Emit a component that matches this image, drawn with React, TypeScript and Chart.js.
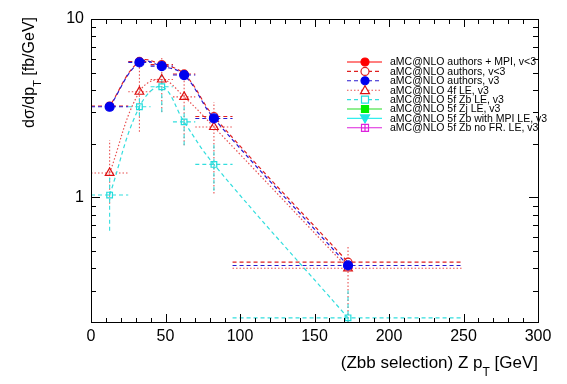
import React, { useEffect, useRef } from 'react';
import { Chart, registerables } from 'chart.js';

Chart.register(...registerables);

// ---------------- data ----------------
const binCenters = [12.5, 32.5, 47.5, 62.5, 82.5, 172.5];
const binLow = [0, 25, 40, 55, 70, 95];
const binHigh = [25, 40, 55, 70, 95, 250];

const seriesLabels = [
  'aMC@NLO authors + MPI, v<3',
  'aMC@NLO authors, v<3',
  'aMC@NLO authors, v3',
  'aMC@NLO 4f LE, v3',
  'aMC@NLO 5f Zb LE, v3',
  'aMC@NLO 5f Zj LE, v3',
  'aMC@NLO 5f Zb with MPI LE, v3',
  'aMC@NLO 5f Zb no FR. LE, v3',
];

const authorsMpiVlt3: number[] = [];
const authorsVlt3 = [3.25, 5.78, 5.55, 4.92, 2.84, 0.433];
const authorsV3 = [3.22, 5.71, 5.44, 4.85, 2.77, 0.415];
const le4f = [1.37, 3.91, 4.58, 3.66, 2.48, 0.4];
const le4fLow = [0.92, 2.33, 3.01, 1.96, 1.05, 0.2];
const le4fHigh = [2.09, 5.6, 6.14, 5.17, 3.43, 0.526];
const le5fZb = [1.03, 3.22, 4.17, 2.65, 1.53, 0.211];
const le5fZbLow = [0.65, 2.85, 3.0, 1.96, 1.09, 0.2];
const le5fZbHigh = [1.33, 3.65, 4.9, 3.22, 2.05, 0.3];
const le5fZj: number[] = [];
const le5fZbMpi: number[] = [];
const le5fZbNoFR: number[] = [];

const xTickValues = [0, 50, 100, 150, 200, 250, 300];
const yTickValues = [1, 10];

const FONT = '"Liberation Sans", Arial, Helvetica, sans-serif';

const pts = (vals: number[]) => vals.map((y, i) => ({ x: binCenters[i], y }));

// ---------------- drawing helpers ----------------
function drawMarker(ctx: CanvasRenderingContext2D, kind: string, x: number, y: number, color: string, filled: boolean) {
  ctx.save();
  ctx.setLineDash([]);
  ctx.lineWidth = 1.2;
  ctx.strokeStyle = color;
  ctx.fillStyle = filled ? color : '#ffffff';
  ctx.beginPath();
  if (kind === 'circle') {
    ctx.arc(x, y, 4, 0, Math.PI * 2);
  } else if (kind === 'triangle') {
    ctx.moveTo(x, y - 4.5);
    ctx.lineTo(x + 4.5, y + 3.5);
    ctx.lineTo(x - 4.5, y + 3.5);
    ctx.closePath();
  } else if (kind === 'triangleDown') {
    ctx.moveTo(x, y + 4.5);
    ctx.lineTo(x + 4.5, y - 3.5);
    ctx.lineTo(x - 4.5, y - 3.5);
    ctx.closePath();
  } else {
    ctx.rect(x - 3.5, y - 3.5, 7, 7);
  }
  ctx.fill();
  ctx.stroke();
  if (kind === 'squarePlus') {
    ctx.beginPath();
    ctx.moveTo(x - 3.5, y);
    ctx.lineTo(x + 3.5, y);
    ctx.moveTo(x, y - 3.5);
    ctx.lineTo(x, y + 3.5);
    ctx.stroke();
  }
  ctx.restore();
}

const rootPlugin = {
  id: 'rootStyle',
  beforeDatasetsDraw(chart: any) {
    const { ctx, chartArea: a } = chart;
    const xs = chart.scales.x;
    const ys = chart.scales.y;
    ctx.save();
    ctx.beginPath();
    ctx.rect(a.left, a.top, a.right - a.left, a.bottom - a.top);
    ctx.clip();
    chart.data.datasets.forEach((ds: any) => {
      const vals: number[] = ds.values || [];
      ctx.strokeStyle = ds.errColor || ds.borderColor;
      ctx.lineWidth = 1.1;
      ctx.setLineDash(ds.borderDash || []);
      vals.forEach((v, i) => {
        const py = ys.getPixelForValue(v);
        ctx.beginPath();
        ctx.moveTo(xs.getPixelForValue(binLow[i]), py);
        ctx.lineTo(xs.getPixelForValue(binHigh[i]), py);
        ctx.stroke();
        if (ds.errLow && ds.errHigh) {
          const px = xs.getPixelForValue(binCenters[i]);
          ctx.beginPath();
          ctx.moveTo(px, ys.getPixelForValue(ds.errLow[i]));
          ctx.lineTo(px, ys.getPixelForValue(ds.errHigh[i]));
          ctx.stroke();
        }
      });
    });
    ctx.restore();
  },
  afterDraw(chart: any) {
    const { ctx, chartArea: a } = chart;
    const xs = chart.scales.x;
    const ys = chart.scales.y;
    ctx.save();
    ctx.setLineDash([]);
    ctx.strokeStyle = '#000';
    ctx.lineWidth = 1;
    // frame
    ctx.strokeRect(Math.round(a.left) + 0.5, Math.round(a.top) + 0.5, Math.round(a.right - a.left), Math.round(a.bottom - a.top));
    // x ticks (bottom & top)
    for (let v = 0; v <= 300; v += 10) {
      const px = Math.round(xs.getPixelForValue(v)) + 0.5;
      const major = v % 50 === 0;
      const lb = major ? 8 : 4;
      const lt = major ? 8 : 5;
      ctx.beginPath();
      ctx.moveTo(px, a.bottom);
      ctx.lineTo(px, a.bottom - lb);
      ctx.moveTo(px, a.top);
      ctx.lineTo(px, a.top + lt);
      ctx.stroke();
    }
    // y ticks (left & right)
    const yt: number[] = [];
    for (let d = 0.1; d < 20; d *= 10) {
      for (let m = 1; m < 10; m++) yt.push(+(m * d).toPrecision(3));
    }
    yt.forEach((v) => {
      if (v < 0.2 || v > 10) return;
      const py = Math.round(ys.getPixelForValue(v)) + 0.5;
      const major = v === 1 || v === 10;
      const l = major ? 9 : 5;
      ctx.beginPath();
      ctx.moveTo(a.left, py);
      ctx.lineTo(a.left + l, py);
      ctx.moveTo(a.right, py);
      ctx.lineTo(a.right - l, py);
      ctx.stroke();
    });
    // x title
    ctx.fillStyle = '#000';
    ctx.textBaseline = 'alphabetic';
    ctx.font = `17px ${FONT}`;
    const t1 = '(Zbb selection) Z p';
    const t3 = ' [GeV]';
    ctx.font = `17px ${FONT}`;
    const w1 = ctx.measureText(t1).width;
    const w3 = ctx.measureText(t3).width;
    ctx.font = `12px ${FONT}`;
    const w2 = ctx.measureText('T').width;
    let x0 = a.right - (w1 + w2 + w3);
    ctx.font = `17px ${FONT}`;
    ctx.textAlign = 'left';
    ctx.fillText(t1, x0, 368);
    ctx.font = `12px ${FONT}`;
    ctx.fillText('T', x0 + w1, 376);
    ctx.font = `17px ${FONT}`;
    ctx.fillText(t3, x0 + w1 + w2, 368);
    // y title (rotated)
    ctx.save();
    ctx.translate(34, a.top - 2);
    ctx.rotate(-Math.PI / 2);
    const y1 = 'dσ/dp';
    const y3 = ' [fb/GeV]';
    ctx.font = `16px ${FONT}`;
    const v1 = ctx.measureText(y1).width;
    const v3 = ctx.measureText(y3).width;
    ctx.font = `11px ${FONT}`;
    const v2 = ctx.measureText('T').width;
    const start = -(v1 + v2 + v3);
    ctx.font = `16px ${FONT}`;
    ctx.fillText(y1, start, 0);
    ctx.font = `11px ${FONT}`;
    ctx.fillText('T', start + v1, 7);
    ctx.font = `16px ${FONT}`;
    ctx.fillText(y3, start + v1 + v2, 0);
    ctx.restore();
    // legend
    ctx.font = `10.5px ${FONT}`;
    ctx.textBaseline = 'middle';
    ctx.textAlign = 'left';
    chart.data.datasets.forEach((ds: any, i: number) => {
      const ry = 62 + i * 9.4;
      ctx.save();
      ctx.strokeStyle = ds.legendLine || ds.borderColor;
      ctx.lineWidth = 1.1;
      ctx.setLineDash(ds.borderDash || []);
      ctx.beginPath();
      ctx.moveTo(347, ry);
      ctx.lineTo(382, ry);
      ctx.stroke();
      ctx.restore();
      drawMarker(ctx, ds.markerKind, 365, ry, ds.pointBorderColor, ds.markerFilled);
      ctx.fillStyle = '#000';
      ctx.fillText(ds.label, 390, ry + 0.5);
    });
    ctx.restore();
  },
};

export default function App() {
  const ref = useRef<HTMLCanvasElement | null>(null);
  useEffect(() => {
    if (!ref.current) return;
    const chart = new Chart(ref.current, {
      type: 'line',
      data: {
        datasets: [
          {
            label: seriesLabels[0], data: pts(authorsMpiVlt3), values: authorsMpiVlt3,
            borderColor: '#ff0000', borderWidth: 1.2, tension: 0.4,
            pointStyle: 'circle', pointRadius: 4, pointBackgroundColor: '#ff0000', pointBorderColor: '#ff0000',
            markerKind: 'circle', markerFilled: true, order: 5,
          },
          {
            label: seriesLabels[1], data: pts(authorsVlt3), values: authorsVlt3,
            borderColor: '#e02020', borderDash: [4, 3], borderDashOffset: 3.5, borderWidth: 1.2, tension: 0.4,
            pointStyle: 'circle', pointRadius: 4, pointBorderWidth: 1.2, pointBackgroundColor: 'rgba(255,255,255,0)', pointBorderColor: '#e02020',
            markerKind: 'circle', markerFilled: false, order: 2,
          },
          {
            label: seriesLabels[2], data: pts(authorsV3), values: authorsV3,
            borderColor: '#2a1ad0', borderDash: [4, 3], borderWidth: 1.2, tension: 0.4,
            pointStyle: 'circle', pointRadius: 4.5, pointBackgroundColor: '#0000ee', pointBorderColor: '#0000ee',
            markerKind: 'circle', markerFilled: true, order: 0,
          },
          {
            label: seriesLabels[3], data: pts(le4f), values: le4f, errLow: le4fLow, errHigh: le4fHigh,
            borderColor: '#e85050', borderDash: [1.5, 2], borderWidth: 1.2, tension: 0.4,
            pointStyle: 'triangle', pointRadius: 5, pointBorderWidth: 1.2, pointBackgroundColor: 'rgba(255,255,255,0)', pointBorderColor: '#dd1111',
            markerKind: 'triangle', markerFilled: false, order: 3,
          },
          {
            label: seriesLabels[4], data: pts(le5fZb), values: le5fZb, errLow: le5fZbLow, errHigh: le5fZbHigh,
            borderColor: '#33dede', borderDash: [4, 3], borderWidth: 1.2, tension: 0.4,
            pointStyle: 'rect', pointRadius: 4, pointBorderWidth: 1.2, pointBackgroundColor: 'rgba(255,255,255,0)', pointBorderColor: '#22dddd',
            markerKind: 'square', markerFilled: false, order: 4,
          },
          {
            label: seriesLabels[5], data: pts(le5fZj), values: le5fZj,
            borderColor: '#22dd22', borderWidth: 1.2, tension: 0.4,
            pointStyle: 'rect', pointRadius: 4, pointBackgroundColor: '#00ee00', pointBorderColor: '#00ee00',
            markerKind: 'square', markerFilled: true, order: 6,
          },
          {
            label: seriesLabels[6], data: pts(le5fZbMpi), values: le5fZbMpi,
            borderColor: '#33eeee', borderWidth: 1.2, tension: 0.4,
            pointStyle: 'triangle', pointRotation: 180, pointRadius: 4, pointBackgroundColor: '#22e5e5', pointBorderColor: '#22e5e5',
            markerKind: 'triangleDown', markerFilled: true, order: 7,
          },
          {
            label: seriesLabels[7], data: pts(le5fZbNoFR), values: le5fZbNoFR,
            borderColor: '#dd22dd', borderWidth: 1.2, tension: 0.4,
            pointStyle: 'rect', pointRadius: 4, pointBackgroundColor: '#ffffff', pointBorderColor: '#dd22dd',
            markerKind: 'squarePlus', markerFilled: false, order: 8,
          },
        ] as any,
      },
      options: {
        responsive: false,
        animation: false,
        layout: { padding: { top: 19, right: 29, left: 0, bottom: 0 } },
        plugins: { legend: { display: false }, tooltip: { enabled: false } },
        scales: {
          x: {
            type: 'linear', min: 0, max: 300,
            afterBuildTicks: (s: any) => { s.ticks = xTickValues.map((v) => ({ value: v })); },
            ticks: { font: { family: FONT, size: 16 }, color: '#000', padding: 5, maxRotation: 0, autoSkip: false },
            grid: { display: false, drawTicks: false },
            border: { display: false },
            afterFit: (s: any) => { s.height = 62; s.paddingLeft = 0; s.paddingRight = 0; },
          },
          y: {
            type: 'logarithmic', min: 0.2, max: 10,
            afterBuildTicks: (s: any) => { s.ticks = yTickValues.map((v) => ({ value: v })); },
            ticks: { font: { family: FONT, size: 16 }, color: '#000', padding: 7, autoSkip: false, callback: (v: any) => String(v) },
            grid: { display: false, drawTicks: false },
            border: { display: false },
            afterFit: (s: any) => { s.width = 91; s.paddingTop = 0; s.paddingBottom = 0; },
          },
        },
      } as any,
      plugins: [rootPlugin],
    });
    return () => chart.destroy();
  }, []);
  return (
    <div style={{ position: 'fixed', left: 0, top: 0, width: 567, height: 384, background: '#fff' }}>
      <canvas ref={ref} width={567} height={384} />
    </div>
  );
}
